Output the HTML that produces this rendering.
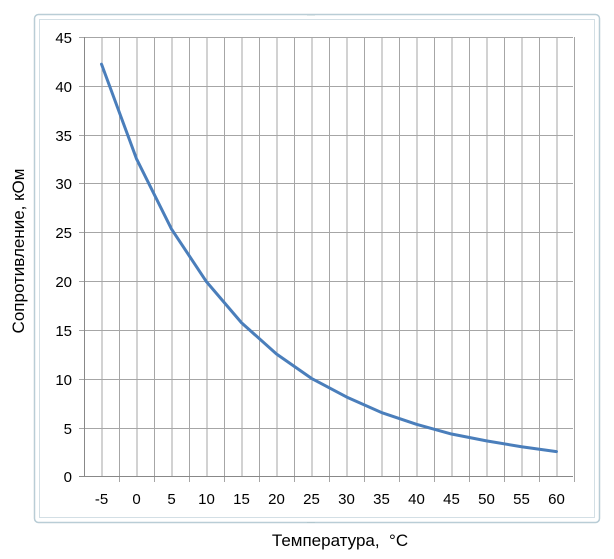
<!DOCTYPE html>
<html><head><meta charset="utf-8"><style>
body{margin:0;background:#fff;}
svg{display:block;font-family:"Liberation Sans",sans-serif;}
</style></head><body>
<svg width="614" height="559" viewBox="0 0 614 559" xmlns="http://www.w3.org/2000/svg">
<rect x="34.5" y="14.5" width="565" height="508" rx="4" fill="#fff" stroke="#b9cdd6" stroke-width="1.5"/>
<rect x="39.5" y="19.5" width="555" height="498" fill="#fff" stroke="#d3dfe5" stroke-width="1"/>
<g fill="#8aa" font-size="6">
<text x="311" y="17" text-anchor="middle">····</text>
<text x="311" y="524" text-anchor="middle">····</text>
</g>
<g stroke="#a6a6a6" stroke-width="1">
<line x1="79" y1="37.5" x2="573" y2="37.5"/>
<line x1="79" y1="86.5" x2="573" y2="86.5"/>
<line x1="79" y1="135.5" x2="573" y2="135.5"/>
<line x1="79" y1="183.5" x2="573" y2="183.5"/>
<line x1="79" y1="232.5" x2="573" y2="232.5"/>
<line x1="79" y1="281.5" x2="573" y2="281.5"/>
<line x1="79" y1="330.5" x2="573" y2="330.5"/>
<line x1="79" y1="379.5" x2="573" y2="379.5"/>
<line x1="79" y1="428.5" x2="573" y2="428.5"/>
</g>
<g stroke="#a6a6a6" stroke-width="1" id="vg"></g>
<line x1="84.5" y1="37" x2="84.5" y2="477" stroke="#888"/>
<line x1="79" y1="476.5" x2="573" y2="476.5" stroke="#888"/>
<g font-size="15" fill="#000" text-anchor="end" id="yl">
<text x="72" y="43">45</text><text x="72" y="92">40</text><text x="72" y="141">35</text>
<text x="72" y="189">30</text><text x="72" y="238">25</text><text x="72" y="287">20</text>
<text x="72" y="336">15</text><text x="72" y="385">10</text><text x="72" y="434">5</text>
<text x="72" y="482">0</text>
</g>
<g font-size="15" fill="#000" text-anchor="middle" id="xl"></g>
<polyline id="ln" fill="none" stroke="#4a7ebb" stroke-width="3" stroke-linejoin="round" stroke-linecap="round"/>
<text transform="translate(24,251) rotate(-90)" font-size="17" text-anchor="middle">Сопротивление, кОм</text>
<text x="340" y="546" font-size="17" text-anchor="middle">Температура,&#160; °C</text>
</svg>
<script>
var ns="http://www.w3.org/2000/svg",vg=document.getElementById('vg'),xl=document.getElementById('xl');
for(var i=1;i<=28;i++){var x=84.5+17.5*i;var l=document.createElementNS(ns,'line');l.setAttribute('x1',x);l.setAttribute('x2',x);l.setAttribute('y1',37);l.setAttribute('y2',i%2==0?482:476);vg.appendChild(l);}
var d=[42.2,32.5,25.3,19.9,15.7,12.5,10,8.1,6.5,5.3,4.3,3.6,3.0,2.5],p=[];
for(var k=0;k<14;k++){var x=101.5+35*k;p.push(x+','+(476-d[k]*9.76));var t=document.createElementNS(ns,'text');t.setAttribute('x',x);t.setAttribute('y',504);t.textContent=(-5+5*k);xl.appendChild(t);}
document.getElementById('ln').setAttribute('points',p.join(' '));
</script>
</body></html>
